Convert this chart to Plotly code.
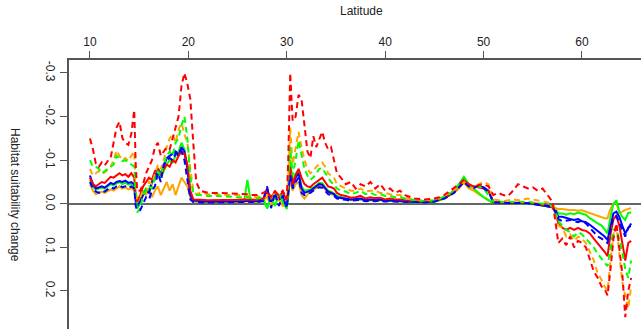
import plotly.graph_objects as go

# Latitude positions shared by all series
latitude = [
    10.0, 10.3, 10.6, 10.9, 11.2, 11.5, 11.8, 12.1, 12.4, 12.7, 13.0, 13.3, 13.6, 13.9, 14.2, 14.5, 14.65, 14.8,
    15.1, 15.4, 15.7, 16.0, 16.3, 16.6, 16.9, 17.2, 17.5, 17.8, 18.1, 18.4, 18.7, 19.0, 19.3, 19.6, 19.9, 20.2, 20.5, 20.8,
    21.2, 22.0, 23.0, 24.0, 25.0, 25.7, 26.0, 26.3, 27.0, 27.6,
    28.0, 28.4, 28.8, 29.2, 29.6, 30.0,
    30.15, 30.35, 30.6, 30.9,
    31.2, 31.5, 31.8, 32.1, 32.4, 32.7, 33.0, 33.3, 33.6, 33.9, 34.2, 34.5, 34.8, 35.1,
    35.5, 36.0, 36.5, 37.0, 37.5, 38.0, 38.5, 39.0, 39.5, 40.0, 40.5, 41.0, 41.5, 42.0,
    43.0, 44.0, 45.0,
    45.5, 46.0, 46.5, 47.0, 47.5, 48.0, 48.5, 49.0, 49.5, 50.0, 50.5, 51.0, 51.5, 52.0, 52.5, 53.0, 53.5, 54.0, 54.5, 55.0, 55.5, 56.0, 56.5, 57.0,
    57.3, 57.6,
    58.0, 58.4, 58.8, 59.2, 59.6, 60.0, 60.4, 60.8, 61.2, 61.6, 62.0,
    62.3, 62.6, 62.9, 63.2, 63.5, 63.8, 64.1, 64.4, 64.7, 65.0,
]

red_dashed = [
    -0.150, -0.125, -0.092, -0.085, -0.095, -0.088, -0.098, -0.105, -0.140, -0.175, -0.188, -0.150, -0.140, -0.135, -0.160, -0.215, -0.090, -0.030,
    -0.030, -0.045, -0.070, -0.085, -0.100, -0.130, -0.140, -0.110, -0.120, -0.130, -0.125, -0.150, -0.170, -0.200, -0.270, -0.300, -0.275, -0.240, -0.140, -0.050,
    -0.030, -0.025, -0.025, -0.024, -0.022, -0.022, -0.022, -0.020, -0.020, -0.025,
    -0.030, -0.015, -0.028, -0.020, -0.030, -0.010,
    -0.100, -0.300, -0.190, -0.200,
    -0.250, -0.240, -0.180, -0.120, -0.105, -0.155, -0.130, -0.150, -0.165, -0.140, -0.125, -0.130, -0.100, -0.070,
    -0.060, -0.045, -0.050, -0.035, -0.045, -0.040, -0.050, -0.035, -0.045, -0.030, -0.035, -0.025, -0.030, -0.020,
    -0.012, -0.010, -0.012,
    -0.015, -0.020, -0.028, -0.035, -0.045, -0.055, -0.045, -0.040, -0.042, -0.045, -0.040, -0.020, -0.025, -0.020, -0.018, -0.030, -0.045, -0.040, -0.035, -0.038, -0.030, -0.035, -0.020, -0.005,
    0.040, 0.090,
    0.080, 0.095, 0.075, 0.100, 0.085, 0.090, 0.100, 0.130, 0.155, 0.170, 0.190,
    0.195, 0.210, 0.150, 0.080, 0.045, 0.110, 0.160, 0.260, 0.200, 0.170,
]

orange_dashed = [
    -0.080, -0.065, -0.070, -0.075, -0.068, -0.072, -0.078, -0.085, -0.100, -0.122, -0.110, -0.100, -0.105, -0.098, -0.110, -0.120, -0.030, -0.010,
    -0.015, -0.030, -0.025, -0.050, -0.045, -0.070, -0.090, -0.080, -0.100, -0.130, -0.150, -0.160, -0.140, -0.170, -0.185, -0.160, -0.140, -0.080, -0.030, -0.022,
    -0.025, -0.022, -0.022, -0.020, -0.020, -0.020, -0.018, -0.018, -0.015, -0.020,
    -0.020, -0.010, -0.025, -0.005, -0.020, 0.000,
    -0.060, -0.175, -0.090, -0.130,
    -0.165, -0.130, -0.100, -0.080, -0.070, -0.075, -0.085, -0.090, -0.095, -0.085, -0.070, -0.065, -0.060, -0.045,
    -0.040, -0.035, -0.030, -0.030, -0.035, -0.028, -0.030, -0.030, -0.025, -0.025, -0.022, -0.020, -0.020, -0.015,
    -0.010, -0.008, -0.010,
    -0.012, -0.018, -0.025, -0.030, -0.040, -0.050, -0.040, -0.035, -0.045, -0.050, -0.045, -0.010, -0.008, -0.006, -0.008, -0.010, -0.008, -0.010, -0.012, -0.010, -0.008, -0.006, -0.003, 0.002,
    0.010, 0.050,
    0.055, 0.075, 0.070, 0.085, 0.075, 0.080, 0.090, 0.110, 0.130, 0.160, 0.175,
    0.190, 0.200, 0.130, 0.070, 0.050, 0.120, 0.180, 0.210, 0.240, 0.190,
]

green_dashed = [
    -0.100, -0.085, -0.085, -0.080, -0.070, -0.075, -0.080, -0.085, -0.090, -0.110, -0.105, -0.098, -0.100, -0.095, -0.090, -0.085, -0.020, 0.020,
    0.010, -0.020, -0.030, -0.040, -0.035, -0.060, -0.075, -0.065, -0.090, -0.110, -0.120, -0.110, -0.140, -0.150, -0.180, -0.200, -0.150, -0.060, -0.025, -0.020,
    -0.020, -0.018, -0.018, -0.016, -0.015, -0.015, -0.015, -0.013, -0.012, -0.015,
    0.012, -0.020, -0.010, -0.025, -0.010, 0.008,
    -0.050, -0.130, -0.065, -0.100,
    -0.145, -0.110, -0.080, -0.065, -0.055, -0.060, -0.070, -0.080, -0.082, -0.070, -0.060, -0.050, -0.045, -0.035,
    -0.030, -0.028, -0.022, -0.025, -0.030, -0.022, -0.025, -0.020, -0.022, -0.018, -0.018, -0.015, -0.015, -0.012,
    -0.008, -0.006, -0.008,
    -0.012, -0.016, -0.022, -0.030, -0.045, -0.060, -0.040, -0.038, -0.040, -0.035, -0.020, -0.005, -0.004, -0.004, -0.005, -0.004, -0.004, -0.005, -0.004, -0.003, -0.002, 0.000, 0.003, 0.006,
    0.020, 0.040,
    0.050, 0.060, 0.065, 0.075, 0.065, 0.070, 0.080, 0.090, 0.100, 0.115, 0.125,
    0.135, 0.143, 0.100, 0.060, 0.055, 0.085, 0.110, 0.150, 0.170, 0.130,
]

blue_dashed = [
    -0.050, -0.035, -0.028, -0.025, -0.030, -0.028, -0.033, -0.038, -0.035, -0.040, -0.042, -0.038, -0.040, -0.036, -0.040, -0.035, 0.005, 0.015,
    0.015, 0.000, -0.015, -0.010, -0.030, -0.040, -0.070, -0.050, -0.090, -0.100, -0.105, -0.100, -0.115, -0.125, -0.120, -0.100, -0.060, -0.010, -0.004, -0.003,
    -0.003, -0.003, -0.003, -0.003, -0.004, -0.004, -0.005, -0.004, -0.004, -0.006,
    -0.040, 0.010, -0.025, 0.005, -0.020, 0.010,
    -0.025, -0.065, -0.035, -0.050,
    -0.060, -0.025, -0.020, -0.022, -0.025, -0.030, -0.034, -0.038, -0.037, -0.030, -0.022, -0.020, -0.018, -0.012,
    -0.010, -0.009, -0.007, -0.008, -0.009, -0.006, -0.007, -0.006, -0.007, -0.005, -0.006, -0.005, -0.005, -0.004,
    -0.004, -0.003, -0.005,
    -0.009, -0.012, -0.018, -0.025, -0.038, -0.050, -0.040, -0.036, -0.042, -0.036, -0.028, -0.003, -0.003, -0.002, -0.002, -0.002, -0.002, -0.001, -0.001, 0.000, 0.002, 0.003, 0.005, 0.007,
    0.018, 0.035,
    0.040, 0.038, 0.037, 0.040, 0.042, 0.038, 0.045, 0.055, 0.065, 0.075, 0.080,
    0.085, 0.090, 0.060, 0.030, 0.028, 0.045, 0.060, 0.075, 0.055, 0.050,
]

red_solid = [
    -0.060, -0.045, -0.040, -0.045, -0.050, -0.048, -0.055, -0.062, -0.060, -0.065, -0.070, -0.065, -0.068, -0.062, -0.070, -0.060, -0.020, -0.005,
    -0.020, -0.040, -0.050, -0.060, -0.055, -0.075, -0.080, -0.065, -0.080, -0.090, -0.085, -0.100, -0.095, -0.110, -0.120, -0.115, -0.090, -0.030, -0.010, -0.009,
    -0.009, -0.008, -0.008, -0.008, -0.009, -0.010, -0.010, -0.010, -0.009, -0.012,
    -0.025, -0.010, -0.030, -0.015, -0.028, -0.005,
    -0.030, -0.085, -0.045, -0.065,
    -0.080, -0.060, -0.045, -0.040, -0.038, -0.045, -0.050, -0.055, -0.060, -0.050, -0.040, -0.038, -0.035, -0.025,
    -0.020, -0.018, -0.014, -0.015, -0.018, -0.012, -0.015, -0.013, -0.014, -0.010, -0.012, -0.010, -0.010, -0.008,
    -0.006, -0.005, -0.007,
    -0.010, -0.014, -0.020, -0.030, -0.042, -0.055, -0.042, -0.040, -0.038, -0.035, -0.030, -0.004, -0.003, -0.003, -0.003, -0.003, -0.002, -0.002, -0.002, -0.001, 0.000, 0.003, 0.005, 0.008,
    0.020, 0.045,
    0.055, 0.060, 0.055, 0.060, 0.055, 0.060, 0.062, 0.068, 0.080, 0.090, 0.100,
    0.110, 0.120, 0.070, 0.035, 0.028, 0.050, 0.090, 0.130, 0.090, 0.085,
]

blue_solid = [
    -0.065, -0.045, -0.035, -0.038, -0.040, -0.037, -0.042, -0.048, -0.045, -0.050, -0.052, -0.050, -0.053, -0.048, -0.050, -0.045, -0.005, 0.005,
    -0.005, -0.020, -0.030, -0.025, -0.050, -0.060, -0.080, -0.070, -0.085, -0.105, -0.110, -0.115, -0.120, -0.110, -0.130, -0.120, -0.080, -0.020, -0.008, -0.007,
    -0.006, -0.005, -0.005, -0.005, -0.006, -0.006, -0.007, -0.006, -0.006, -0.010,
    -0.035, -0.005, -0.020, -0.010, -0.015, 0.005,
    -0.030, -0.075, -0.040, -0.060,
    -0.070, -0.035, -0.025, -0.028, -0.030, -0.035, -0.040, -0.045, -0.044, -0.035, -0.028, -0.025, -0.022, -0.015,
    -0.014, -0.012, -0.010, -0.011, -0.012, -0.008, -0.010, -0.009, -0.010, -0.007, -0.008, -0.007, -0.007, -0.006,
    -0.004, -0.004, -0.005,
    -0.010, -0.013, -0.020, -0.028, -0.040, -0.052, -0.042, -0.038, -0.040, -0.038, -0.030, -0.003, -0.003, -0.002, -0.002, -0.002, -0.002, -0.001, -0.001, 0.000, 0.002, 0.004, 0.006, 0.008,
    0.015, 0.030,
    0.030, 0.033, 0.035, 0.037, 0.035, 0.040, 0.042, 0.048, 0.055, 0.062, 0.068,
    0.075, 0.083, 0.055, 0.022, 0.018, 0.030, 0.050, 0.068, 0.056, 0.045,
]

green_solid = [
    -0.055, -0.040, -0.032, -0.035, -0.037, -0.035, -0.040, -0.045, -0.042, -0.047, -0.050, -0.045, -0.048, -0.044, -0.046, -0.040, -0.010, 0.010,
    0.000, -0.025, -0.035, -0.030, -0.050, -0.055, -0.070, -0.060, -0.075, -0.090, -0.100, -0.095, -0.110, -0.120, -0.140, -0.125, -0.085, -0.020, -0.006, -0.005,
    -0.005, -0.004, -0.004, -0.004, -0.005, -0.010, -0.055, -0.010, -0.005, -0.008,
    0.010, -0.015, 0.005, -0.020, -0.005, 0.012,
    -0.020, -0.100, -0.050, -0.070,
    -0.075, -0.040, -0.030, -0.032, -0.033, -0.038, -0.042, -0.048, -0.047, -0.038, -0.030, -0.028, -0.024, -0.018,
    -0.015, -0.012, -0.009, -0.010, -0.011, -0.007, -0.009, -0.008, -0.009, -0.006, -0.007, -0.006, -0.006, -0.005,
    -0.003, -0.003, -0.004,
    -0.008, -0.012, -0.020, -0.028, -0.045, -0.062, -0.045, -0.035, -0.025, -0.015, -0.008, -0.002, -0.002, -0.002, -0.002, -0.002, -0.001, -0.001, 0.000, 0.000, 0.002, 0.004, 0.006, 0.008,
    0.012, 0.022,
    0.022, 0.025, 0.022, 0.024, 0.020, 0.022, 0.025, 0.033, 0.040, 0.045, 0.050,
    0.060, 0.068, 0.030, 0.000, -0.008, 0.018, 0.030, 0.037, 0.021, 0.020,
]

orange_solid = [
    -0.045, -0.030, -0.022, -0.025, -0.028, -0.025, -0.030, -0.033, -0.030, -0.035, -0.040, -0.035, -0.038, -0.033, -0.036, -0.030, -0.010, 0.000,
    -0.010, -0.030, -0.020, -0.035, -0.015, -0.030, -0.040, -0.020, -0.035, -0.050, -0.030, -0.045, -0.020, -0.040, -0.060, -0.050, -0.040, -0.015, -0.006, -0.005,
    -0.004, -0.004, -0.004, -0.004, -0.005, -0.005, -0.006, -0.005, -0.005, -0.008,
    -0.015, 0.005, -0.020, -0.010, 0.005, 0.003,
    -0.015, -0.060, -0.030, -0.045,
    -0.050, -0.020, -0.012, -0.020, -0.030, -0.032, -0.036, -0.040, -0.040, -0.033, -0.026, -0.022, -0.020, -0.014,
    -0.012, -0.010, -0.008, -0.009, -0.010, -0.007, -0.008, -0.007, -0.008, -0.006, -0.007, -0.006, -0.006, -0.005,
    -0.005, -0.004, -0.006,
    -0.008, -0.012, -0.018, -0.025, -0.035, -0.048, -0.035, -0.030, -0.022, -0.015, -0.010, -0.002, -0.002, -0.002, -0.002, -0.001, -0.001, -0.001, 0.000, 0.001, 0.002, 0.003, 0.005, 0.008,
    0.010, 0.012,
    0.012, 0.014, 0.015, 0.014, 0.016, 0.015, 0.018, 0.022, 0.025, 0.027, 0.030,
    0.033, 0.033, 0.012, 0.000, -0.002, 0.020, 0.018, 0.014, 0.012, 0.010,
]

x_ticks = [10, 20, 30, 40, 50, 60]
y_ticks = [-0.3, -0.2, -0.1, 0.0, 0.1, 0.2]
y_tick_text = ["-0.3", "-0.2", "-0.1", "0.0", "0.1", "0.2"]

RED, ORANGE, GREEN, BLUE = "#FF0000", "#FFA500", "#00FF00", "#0000FF"
DASH = "6px,4px"

series = [
    (orange_solid, ORANGE, "solid"),
    (green_solid, GREEN, "solid"),
    (blue_solid, BLUE, "solid"),
    (red_solid, RED, "solid"),
    (orange_dashed, ORANGE, DASH),
    (green_dashed, GREEN, DASH),
    (blue_dashed, BLUE, DASH),
    (red_dashed, RED, DASH),
]

fig = go.Figure()
for values, color, dash in series:
    assert len(values) == len(latitude)
    fig.add_trace(go.Scatter(
        x=latitude, y=values, mode="lines",
        line=dict(color=color, width=2, dash=dash),
        showlegend=False, hoverinfo="skip",
    ))

W, H = 641, 329
ML, MT = 69, 60
fig.update_layout(
    width=W, height=H,
    margin=dict(l=ML, r=0, t=MT, b=0),
    paper_bgcolor="white", plot_bgcolor="white",
    font=dict(family="Liberation Sans, Arial, sans-serif", size=12, color="#222"),
    xaxis=dict(
        side="top", range=[7.87, 66.0],
        tickvals=x_ticks, ticks="outside", ticklen=7, tickcolor="#555", tickwidth=1.3,
        showline=True, linecolor="#555", linewidth=1.5, mirror=False,
        showgrid=False, zeroline=False,
        tickfont=dict(size=12, color="#222"),
    ),
    yaxis=dict(
        range=[0.2872, -0.3298],
        tickvals=y_ticks, ticktext=y_tick_text, tickangle=90,
        ticks="outside", ticklen=7, tickcolor="#555", tickwidth=1.3,
        showline=True, linecolor="#555", linewidth=1.5,
        showgrid=False,
        zeroline=True, zerolinecolor="#666", zerolinewidth=1.5,
        tickfont=dict(size=12, color="#222"),
    ),
    annotations=[
        dict(text="Latitude", xref="paper", yref="paper",
             x=(361 - ML) / (W - ML), y=(H - 11) / (H - MT),
             xanchor="center", yanchor="middle", showarrow=False,
             font=dict(size=12, color="#222")),
        dict(text="Habitat suitability change", xref="paper", yref="paper",
             x=(15 - ML) / (W - ML), y=(H - 195) / (H - MT),
             xanchor="center", yanchor="middle", showarrow=False, textangle=90,
             font=dict(size=12, color="#222")),
    ],
)

fig.write_html("out.html")
